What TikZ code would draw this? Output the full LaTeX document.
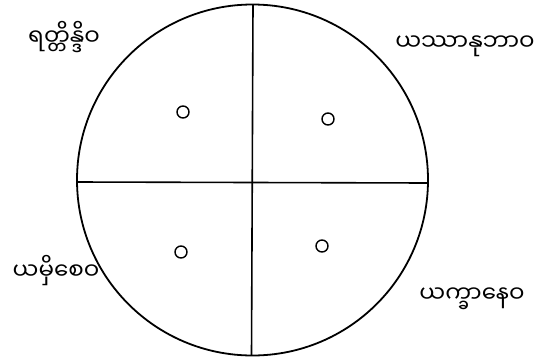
\documentclass[tikz,border=0pt]{standalone}
\usepackage{fontspec}
\newfontfamily\mmfont[Script=Myanmar]{Noto Sans Myanmar UI}
\usetikzlibrary{positioning}
\tikzset{
  dot/.style={draw, circle, line width=1.4pt, minimum size=12pt, inner sep=0pt},
  mmlabel/.style={font=\mmfont\fontsize{23}{26}\selectfont, inner sep=0pt}
}
\begin{document}
\begin{tikzpicture}[x=1pt, y=-1pt]
  \useasboundingbox (0,0) rectangle (553,359);
  % outer circle and cross
  \draw[line width=1.8pt] (252.5,180) circle (175.5);
  \coordinate (top) at (253,4.5);
  \coordinate (bottom) at (251.5,355.5);
  \coordinate (left) at (77,182);
  \coordinate (right) at (428,183);
  \draw[line width=1.6pt] (top) -- (bottom);
  \draw[line width=1.6pt] (left) -- (right);

  % small circles in the quadrants
  \node[dot] (dotNW) at (183,112) {};
  \node[dot] (dotNE) at (328,119) {};
  \node[dot] (dotSW) at (181,252) {};
  \node[dot] (dotSE) at (322,246) {};

  % labels at the four corners
  \node[mmlabel] (labNW) at (64,37) {ရတ္တိန္ဒိဝ};
  \node[mmlabel] (labNE) at (465,46) {ယဿာနုဘာဝ};
  \node[mmlabel] (labSW) at (56,271) {ယမှိစေဝ};
  \node[mmlabel] (labSE) at (472,299) {ယက္ခာနေဝ};
\end{tikzpicture}
\end{document}
